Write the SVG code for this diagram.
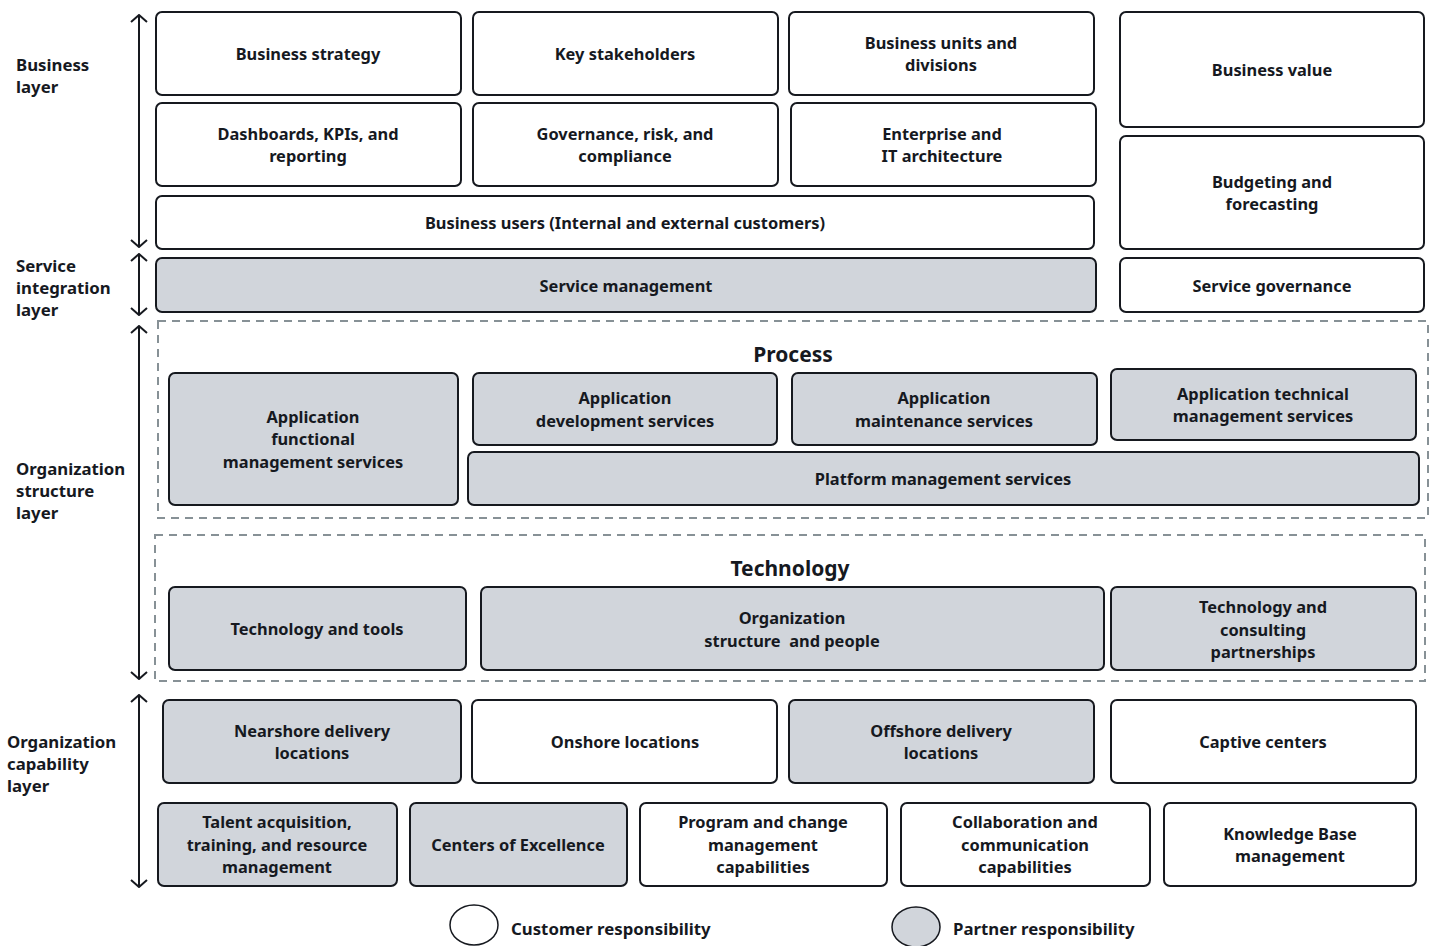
<svg xmlns="http://www.w3.org/2000/svg" width="1432" height="946" viewBox="0 0 1432 946">
<defs>
<style>
text{font-family:"Noto Sans","Liberation Sans",sans-serif;font-weight:bold;font-size:16.4px;fill:#16191f;text-anchor:middle}
.w{fill:#ffffff;stroke:#16191f;stroke-width:2}
.g{fill:#d1d5db;stroke:#16191f;stroke-width:2}
.d{fill:none;stroke:#879196;stroke-width:2;stroke-dasharray:8 6}
.lbl{text-anchor:start;font-size:16.8px}
.ttl{font-size:21px}
.ar{stroke:#16191f;stroke-width:2;fill:none;marker-start:url(#ah);marker-end:url(#ah)}
</style>
<marker id="ah" viewBox="0 0 10 18" refX="9" refY="9" markerWidth="10" markerHeight="18" markerUnits="userSpaceOnUse" orient="auto-start-reverse">
<path d="M2,1 L9,9 L2,17" fill="none" stroke="#16191f" stroke-width="2"/>
</marker>
</defs>
<rect width="1432" height="946" fill="#ffffff"/>

<g id="labels">
<text class="lbl" x="16" y="71">Business</text>
<text class="lbl" x="16" y="93">layer</text>
<text class="lbl" x="16" y="272">Service</text>
<text class="lbl" x="16" y="294">integration</text>
<text class="lbl" x="16" y="316">layer</text>
<text class="lbl" x="16" y="475">Organization</text>
<text class="lbl" x="16" y="497">structure</text>
<text class="lbl" x="16" y="519">layer</text>
<text class="lbl" x="7" y="748">Organization</text>
<text class="lbl" x="7" y="770">capability</text>
<text class="lbl" x="7" y="792">layer</text>
</g>

<g id="connectors">
<line class="ar" x1="139" y1="15" x2="139" y2="247"/>
<line class="ar" x1="139" y1="254" x2="139" y2="315"/>
<line class="ar" x1="139" y1="326" x2="139" y2="679"/>
<line class="ar" x1="139" y1="695" x2="139" y2="887"/>
</g>

<g id="groups">
<rect class="d" x="158" y="321" width="1270" height="197"/>
<text class="ttl" x="793" y="362">Process</text>
<rect class="d" x="155" y="535" width="1270" height="146"/>
<text class="ttl" x="790" y="576">Technology</text>
</g>

<g id="business-strategy"><rect class="w" x="156" y="12" width="305" height="83" rx="6"/><text x="308" y="60">Business strategy</text></g>
<g id="key-stakeholders"><rect class="w" x="473" y="12" width="305" height="83" rx="6"/><text x="625" y="60">Key stakeholders</text></g>
<g id="business-units"><rect class="w" x="789" y="12" width="305" height="83" rx="6"/><text x="941" y="49">Business units and</text><text x="941" y="71">divisions</text></g>
<g id="business-value"><rect class="w" x="1120" y="12" width="304" height="115" rx="6"/><text x="1272" y="76">Business value</text></g>
<g id="dashboards"><rect class="w" x="156" y="103" width="305" height="83" rx="6"/><text x="308" y="140">Dashboards, KPIs, and</text><text x="308" y="162">reporting</text></g>
<g id="governance"><rect class="w" x="473" y="103" width="305" height="83" rx="6"/><text x="625" y="140">Governance, risk, and</text><text x="625" y="162">compliance</text></g>
<g id="enterprise"><rect class="w" x="791" y="103" width="305" height="83" rx="6"/><text x="942" y="140">Enterprise and</text><text x="942" y="162">IT architecture</text></g>
<g id="budgeting"><rect class="w" x="1120" y="136" width="304" height="113" rx="6"/><text x="1272" y="188">Budgeting and</text><text x="1272" y="210">forecasting</text></g>
<g id="business-users"><rect class="w" x="156" y="196" width="938" height="53" rx="6"/><text x="625" y="229">Business users (Internal and external customers)</text></g>
<g id="service-management"><rect class="g" x="156" y="258" width="940" height="54" rx="6"/><text x="626" y="292">Service management</text></g>
<g id="service-governance"><rect class="w" x="1120" y="258" width="304" height="54" rx="6"/><text x="1272" y="292">Service governance</text></g>

<g id="app-functional"><rect class="g" x="169" y="373" width="289" height="132" rx="6"/><text x="313" y="423">Application</text><text x="313" y="445">functional</text><text x="313" y="468">management services</text></g>
<g id="app-development"><rect class="g" x="473" y="373" width="304" height="72" rx="6"/><text x="625" y="404">Application</text><text x="625" y="427">development services</text></g>
<g id="app-maintenance"><rect class="g" x="792" y="373" width="305" height="72" rx="6"/><text x="944" y="404">Application</text><text x="944" y="427">maintenance services</text></g>
<g id="app-technical"><rect class="g" x="1111" y="369" width="305" height="71" rx="6"/><text x="1263" y="400">Application technical</text><text x="1263" y="422">management services</text></g>
<g id="platform-management"><rect class="g" x="468" y="452" width="951" height="53" rx="6"/><text x="943" y="485">Platform management services</text></g>

<g id="tech-tools"><rect class="g" x="169" y="587" width="297" height="83" rx="6"/><text x="317" y="635">Technology and tools</text></g>
<g id="org-structure"><rect class="g" x="481" y="587" width="623" height="83" rx="6"/><text x="792" y="624">Organization</text><text x="792" y="647" xml:space="preserve">structure  and people</text></g>
<g id="tech-consulting"><rect class="g" x="1111" y="587" width="305" height="83" rx="6"/><text x="1263" y="613">Technology and</text><text x="1263" y="636">consulting</text><text x="1263" y="658">partnerships</text></g>

<g id="nearshore"><rect class="g" x="163" y="700" width="298" height="83" rx="6"/><text x="312" y="737">Nearshore delivery</text><text x="312" y="759">locations</text></g>
<g id="onshore"><rect class="w" x="472" y="700" width="305" height="83" rx="6"/><text x="625" y="748">Onshore locations</text></g>
<g id="offshore"><rect class="g" x="789" y="700" width="305" height="83" rx="6"/><text x="941" y="737">Offshore delivery</text><text x="941" y="759">locations</text></g>
<g id="captive"><rect class="w" x="1111" y="700" width="305" height="83" rx="6"/><text x="1263" y="748">Captive centers</text></g>

<g id="talent"><rect class="g" x="158" y="803" width="239" height="83" rx="6"/><text x="277" y="828">Talent acquisition,</text><text x="277" y="851">training, and resource</text><text x="277" y="873">management</text></g>
<g id="coe"><rect class="g" x="410" y="803" width="217" height="83" rx="6"/><text x="518" y="851">Centers of Excellence</text></g>
<g id="program"><rect class="w" x="640" y="803" width="247" height="83" rx="6"/><text x="763" y="828">Program and change</text><text x="763" y="851">management</text><text x="763" y="873">capabilities</text></g>
<g id="collaboration"><rect class="w" x="901" y="803" width="249" height="83" rx="6"/><text x="1025" y="828">Collaboration and</text><text x="1025" y="851">communication</text><text x="1025" y="873">capabilities</text></g>
<g id="knowledge"><rect class="w" x="1164" y="803" width="252" height="83" rx="6"/><text x="1290" y="840">Knowledge Base</text><text x="1290" y="862">management</text></g>

<g id="legend">
<ellipse cx="474" cy="925" rx="24" ry="20" fill="#ffffff" stroke="#16191f" stroke-width="1.5"/>
<text class="lbl" x="511" y="935">Customer responsibility</text>
<ellipse cx="916" cy="927" rx="24" ry="20" fill="#d1d5db" stroke="#16191f" stroke-width="1.5"/>
<text class="lbl" x="953" y="935">Partner responsibility</text>
</g>
</svg>
